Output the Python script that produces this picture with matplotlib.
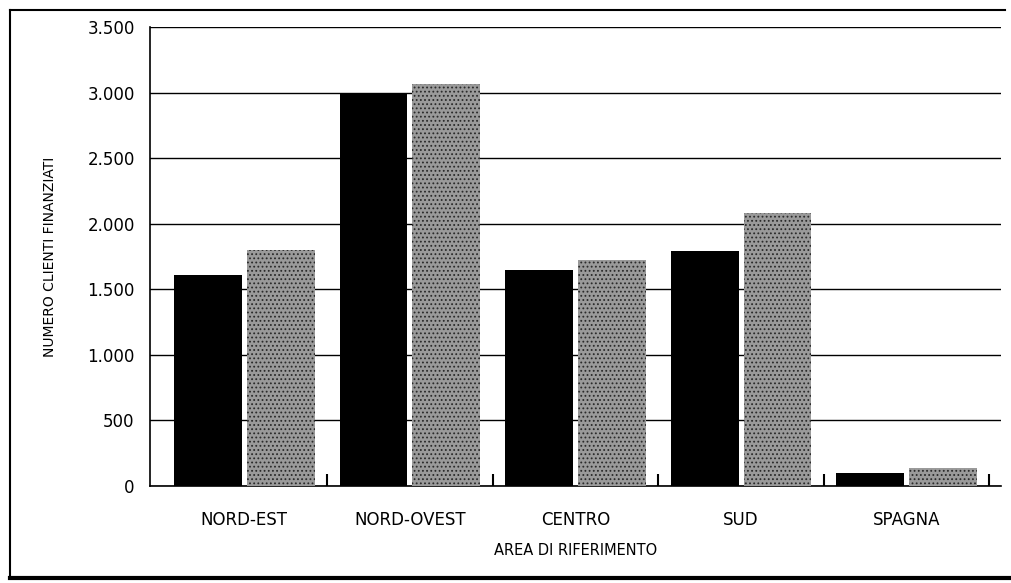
import matplotlib
matplotlib.use("Agg")
import matplotlib.pyplot as plt
import numpy as np
from matplotlib.lines import Line2D
from matplotlib.ticker import FuncFormatter

# Data
areas = ["NORD-EST", "NORD-OVEST", "CENTRO", "SUD", "SPAGNA"]
series_a = [1610, 2990, 1650, 1795, 100]   # black bars
series_b = [1800, 3065, 1725, 2085, 135]   # gray dotted bars

plt.rcParams["font.family"] = ["Liberation Sans Narrow", "DejaVu Sans"]
plt.rcParams["hatch.linewidth"] = 0.8

fig = plt.figure(figsize=(10.11, 5.83), dpi=100)
ax = fig.add_axes([150 / 1011, 97 / 583, 851 / 1011, 459 / 583])

x = np.arange(len(areas))
w = 0.41
ax.bar(x - 0.22, series_a, width=w, color="black", zorder=3)
ax.bar(x + 0.22, series_b, width=w, facecolor="#9a9a9a", edgecolor="#2a2a2a",
       hatch="....", linewidth=0, zorder=3)

ax.set_xlim(-0.57, 4.57)
ax.set_ylim(0, 3500)
ax.set_yticks(np.arange(0, 3501, 500))
ax.yaxis.set_major_formatter(FuncFormatter(lambda v, p: f"{int(v):,}".replace(",", ".")))
ax.yaxis.grid(True, color="black", linewidth=1.0, zorder=1)
ax.tick_params(axis="y", length=0, pad=11, labelsize=12)

# category boundaries as small inward ticks, labels on minor ticks
ax.set_xticks(x + 0.5)
ax.set_xticklabels([])
ax.tick_params(axis="x", which="major", direction="in", length=9, width=1.5)
ax.set_xticks(x, minor=True)
ax.set_xticklabels(areas, minor=True)
ax.tick_params(axis="x", which="minor", length=0, pad=18, labelsize=12)

for s in ["top", "right"]:
    ax.spines[s].set_visible(False)
ax.spines["left"].set_linewidth(1.2)
ax.spines["bottom"].set_linewidth(1.2)

ax.set_ylabel("NUMERO CLIENTI FINANZIATI", fontsize=10, labelpad=22)
ax.set_xlabel("AREA DI RIFERIMENTO", fontsize=10.5, labelpad=10)

# outer frame of the figure
fig.add_artist(Line2D([10 / 1011, 10 / 1011], [5 / 583, 573 / 583], transform=fig.transFigure,
                      color="black", linewidth=1.5))
fig.add_artist(Line2D([10 / 1011, 1005 / 1011], [573 / 583, 573 / 583], transform=fig.transFigure,
                      color="black", linewidth=1.5))
fig.add_artist(Line2D([10 / 1011, 1011 / 1011], [5 / 583, 5 / 583], transform=fig.transFigure,
                      color="black", linewidth=3))

fig.savefig("out.png", dpi=100)
